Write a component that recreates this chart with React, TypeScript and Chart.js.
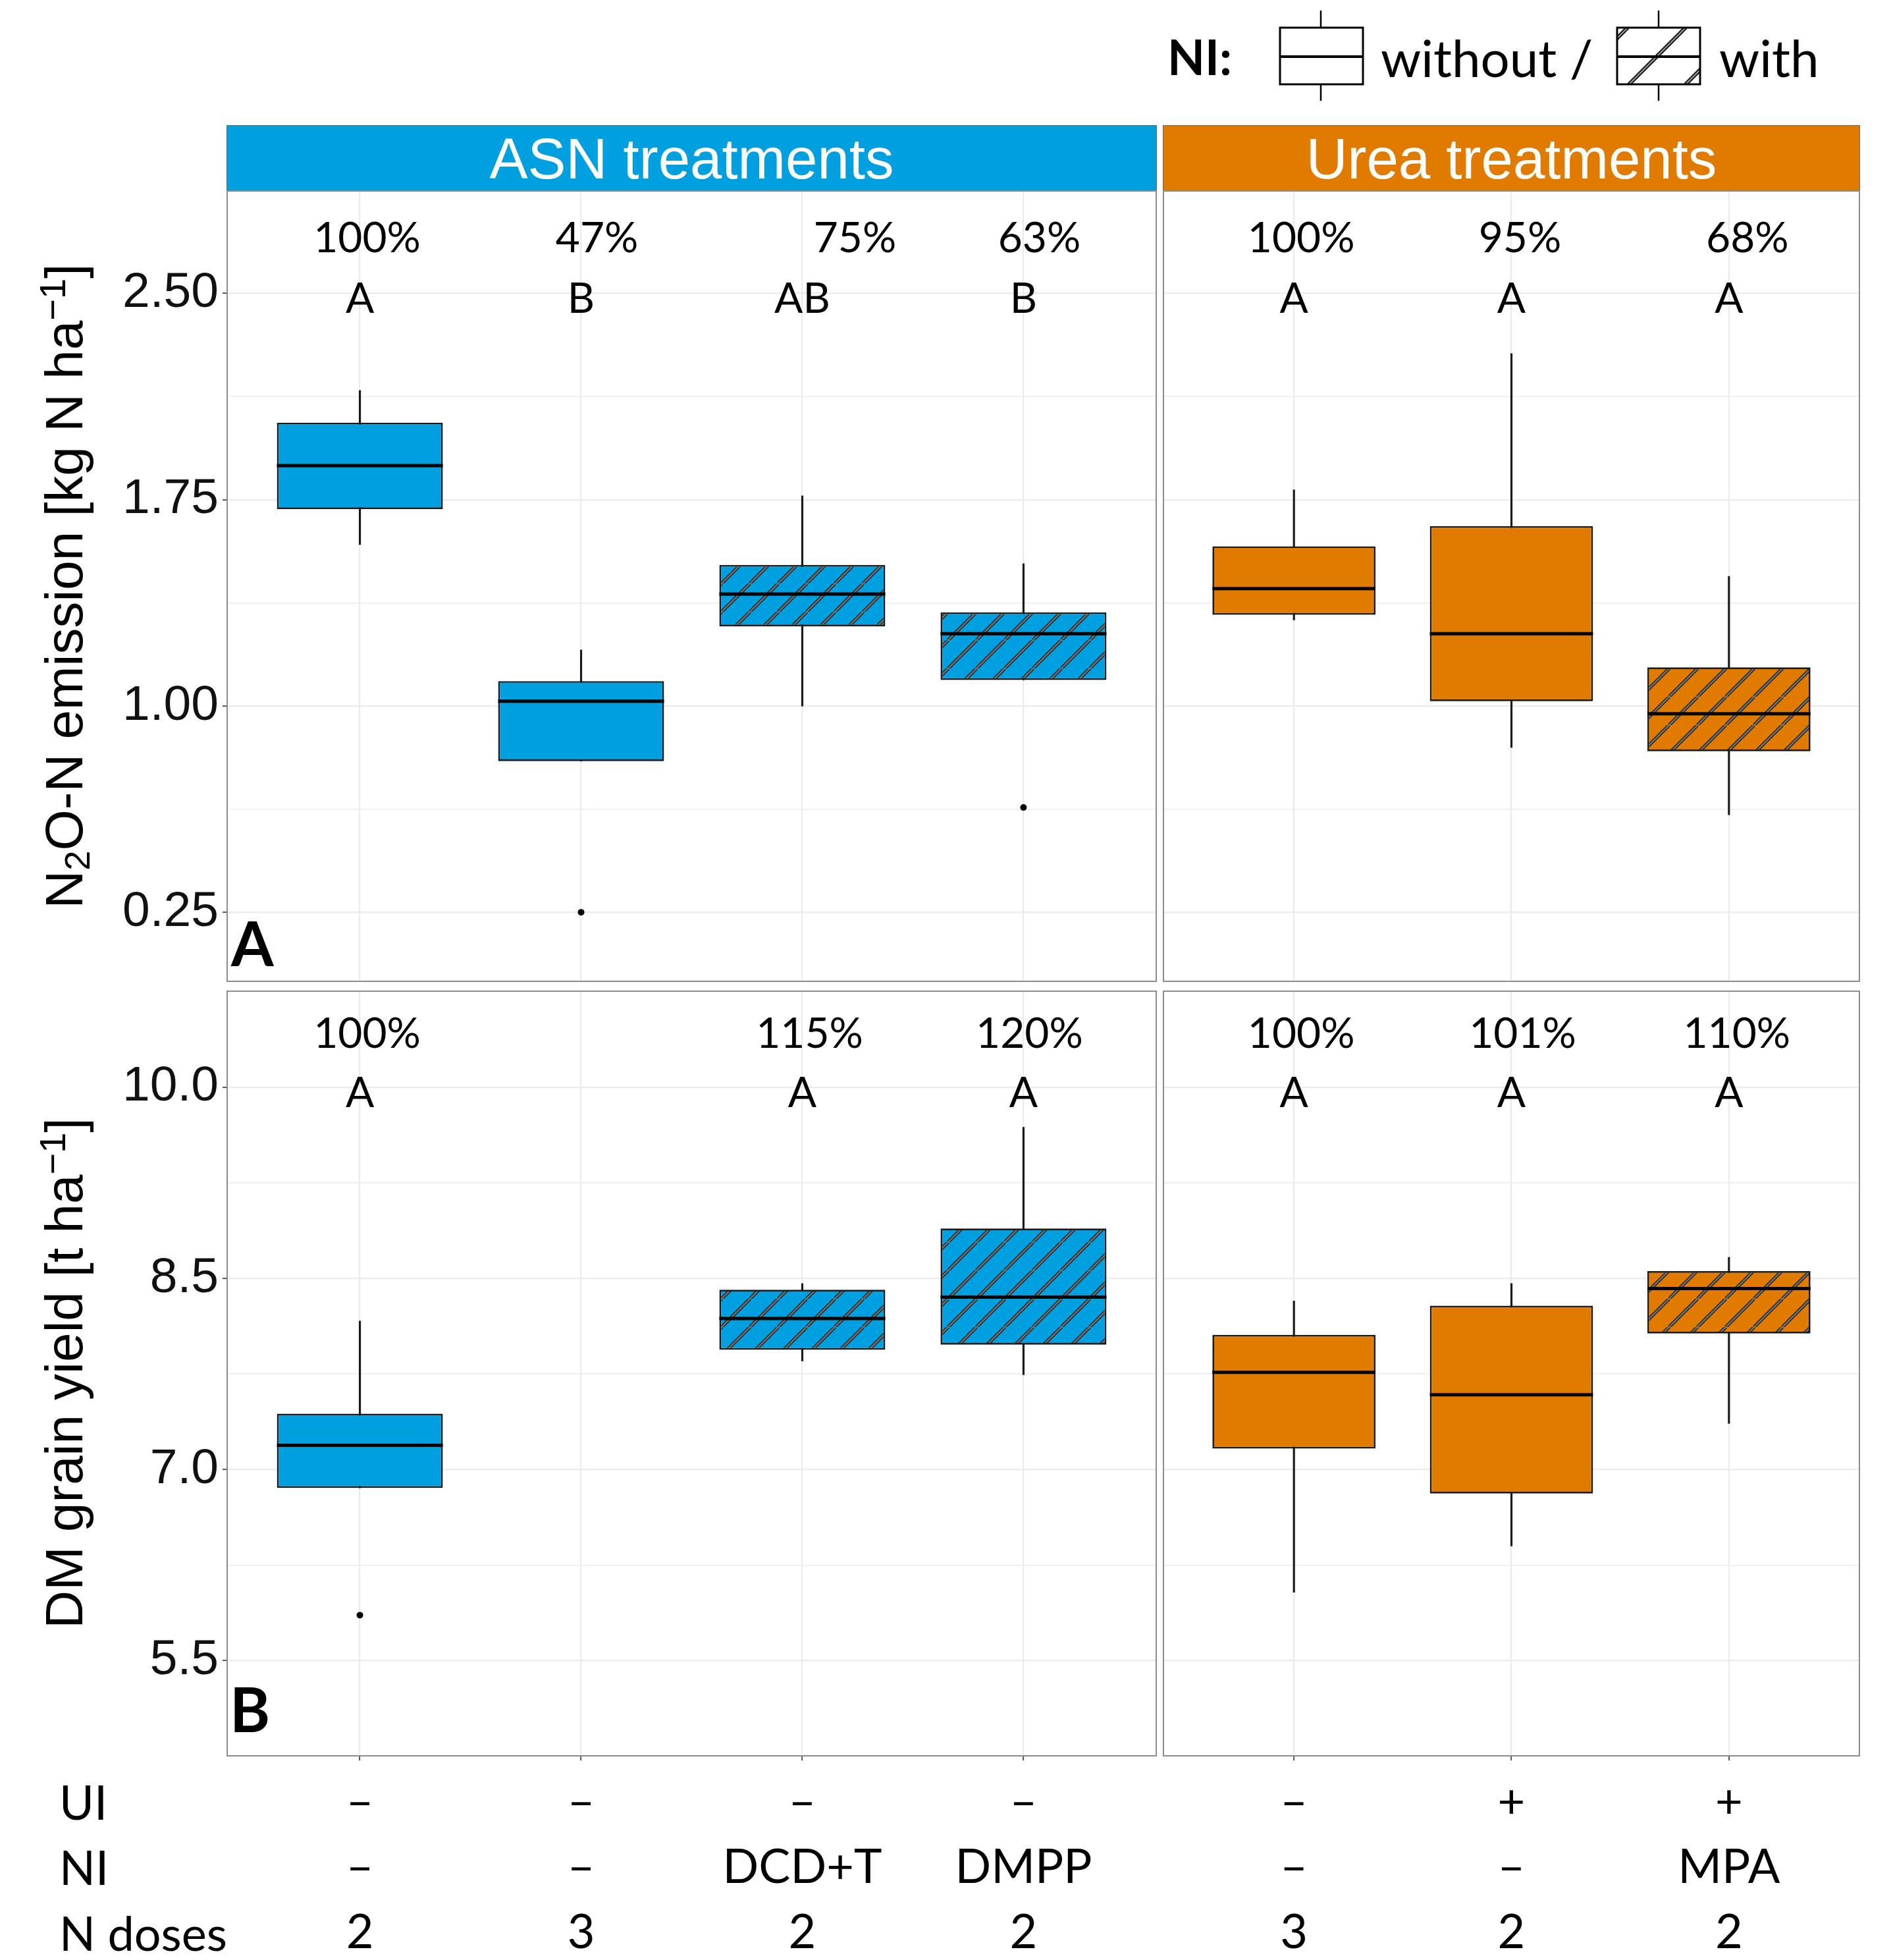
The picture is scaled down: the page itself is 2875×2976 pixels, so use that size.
import React, { useEffect, useRef } from 'react';
import { Chart, registerables } from 'chart.js';

Chart.register(...registerables);

// ---------------- data ----------------
const asnTreatments = ['ASN, 2 doses', 'ASN, 3 doses', 'ASN + DCD+T', 'ASN + DMPP'];
const ureaTreatments = ['Urea, 3 doses', 'Urea + UI', 'Urea + UI + MPA'];
const asnHasNI = [false, false, true, true];
const ureaHasNI = [false, false, true];

// N2O-N emission [kg N ha-1]: whisker low, Q1, median, Q3, whisker high
const asnN2oLow = [1.587, 0.8, 1.0, 1.095];
const asnN2oQ1 = [1.716, 0.8, 1.29, 1.095];
const asnN2oMedian = [1.874, 1.018, 1.407, 1.263];
const asnN2oQ3 = [2.03, 1.091, 1.513, 1.341];
const asnN2oHigh = [2.147, 1.204, 1.764, 1.518];
const asnN2oOutlierIdx = [1, 3];
const asnN2oOutlierVal = [0.251, 0.632];

const ureaN2oLow = [1.313, 0.85, 0.605];
const ureaN2oQ1 = [1.332, 1.018, 0.836];
const ureaN2oMedian = [1.427, 1.263, 0.972];
const ureaN2oQ3 = [1.581, 1.654, 1.141];
const ureaN2oHigh = [1.786, 2.281, 1.472];
const ureaN2oOutlierIdx: number[] = [];
const ureaN2oOutlierVal: number[] = [];

// DM grain yield [t ha-1] (no yield for the ASN 3-dose treatment)
const asnYieldLow = [6.855, null, 7.851, 7.743];
const asnYieldQ1 = [6.855, null, 7.939, 7.979];
const asnYieldMedian = [7.19, null, 8.184, 8.352];
const asnYieldQ3 = [7.438, null, 8.41, 8.891];
const asnYieldHigh = [8.165, null, 8.459, 9.686];
const asnYieldOutlierIdx = [0];
const asnYieldOutlierVal = [5.857];

const ureaYieldLow = [6.036, 6.399, 7.361];
const ureaYieldQ1 = [7.164, 6.811, 8.067];
const ureaYieldMedian = [7.762, 7.586, 8.42];
const ureaYieldQ3 = [8.057, 8.285, 8.557];
const ureaYieldHigh = [8.322, 8.459, 8.665];
const ureaYieldOutlierIdx: number[] = [];
const ureaYieldOutlierVal: number[] = [];

// relative values and significance letters
const asnN2oPercent = ['100%', '47%', '75%', '63%'];
const asnN2oLetters = ['A', 'B', 'AB', 'B'];
const ureaN2oPercent = ['100%', '95%', '68%'];
const ureaN2oLetters = ['A', 'A', 'A'];
const asnYieldPercent = ['100%', '', '115%', '120%'];
const asnYieldLetters = ['A', '', 'A', 'A'];
const ureaYieldPercent = ['100%', '101%', '110%'];
const ureaYieldLetters = ['A', 'A', 'A'];

// treatment table below the x axis
const uiRow = ['–', '–', '–', '–', '–', '+', '+'];
const niRow = ['–', '–', 'DCD+T', 'DMPP', '–', '–', 'MPA'];
const doseRow = ['2', '3', '2', '2', '3', '2', '2'];

// axis ticks (major + minor grid)
const n2oTicks = [0.25, 0.625, 1.0, 1.375, 1.75, 2.125, 2.5];
const n2oTickLabels = ['0.25', '', '1.00', '', '1.75', '', '2.50'];
const yieldTicks = [5.5, 6.25, 7.0, 7.75, 8.5, 9.25, 10.0];
const yieldTickLabels = ['5.5', '', '7.0', '', '8.5', '', '10.0'];

// ---------------- styles ----------------
const ASN_COLOR = '#009FDF';
const UREA_COLOR = '#E07B00';
const GRID = '#ebebeb';
const LATO_ASC = 0.887;

type Spec = {
  key: string;
  left: number; top: number; width: number; height: number;
  pad: { left: number; top: number; right: number; bottom: number };
  yAxisW: number; xAxisH: number;
  cats: string[];
  low: (number | null)[]; q1: (number | null)[]; med: (number | null)[];
  q3: (number | null)[]; high: (number | null)[];
  hatched: boolean[]; color: string;
  outIdx: number[]; outVal: number[];
  yMin: number; yMax: number; ticks: number[]; tickLabels: string[]; showY: boolean;
  pct: string[]; letters: string[]; pctY: number; letterY: number; pctShift: number[];
  xLabels: string[][] | null;
  tag: string; tagUp: number; tagDx: number;
};

function makeHatch(bg: string) {
  const s = 43;
  const c = document.createElement('canvas');
  c.width = s; c.height = s;
  const g = c.getContext('2d')!;
  g.fillStyle = bg;
  g.fillRect(0, 0, s, s);
  const draw = (w: number, col: string) => {
    g.strokeStyle = col;
    g.lineWidth = w;
    for (const o of [-s, 0, s]) {
      g.beginPath();
      g.moveTo(o, s);
      g.lineTo(o + s, 0);
      g.stroke();
    }
  };
  draw(5.2, '#2a2a2a');
  draw(2.0, '#777777');
  return g.createPattern(c, 'repeat')!;
}

function Panel({ s }: { s: Spec }) {
  const ref = useRef<HTMLCanvasElement>(null);
  useEffect(() => {
    const canvas = ref.current!;
    const hatch = makeHatch(s.color);
    const idx = s.cats.map((_, i) => i).filter((i) => s.q1[i] != null);
    const isMajor = (i: number) => i % 2 === 0;

    const extras = {
      id: 'extras_' + s.key,
      afterDatasetsDraw(chart: any) {
        const { ctx } = chart;
        const x = chart.scales.x;
        const y = chart.scales.y;
        const meta = chart.getDatasetMeta(1);
        const raw = chart.data.datasets[1].data as any[];
        ctx.save();
        ctx.strokeStyle = '#000';
        ctx.lineWidth = 5;
        meta.data.forEach((el: any, j: number) => {
          const py = y.getPixelForValue(raw[j].med);
          ctx.beginPath();
          ctx.moveTo(el.x - el.width / 2, py);
          ctx.lineTo(el.x + el.width / 2, py);
          ctx.stroke();
        });
        ctx.fillStyle = '#000';
        ctx.textAlign = 'center';
        ctx.textBaseline = 'middle';
        ctx.font = '64px Lato';
        s.cats.forEach((_, i) => {
          const px = x.getPixelForValue(i);
          if (s.pct[i]) ctx.fillText(s.pct[i], px + s.pctShift[i], y.getPixelForValue(s.pctY));
          if (s.letters[i]) ctx.fillText(s.letters[i], px, y.getPixelForValue(s.letterY));
        });
        ctx.restore();
      },
      afterDraw(chart: any) {
        const { ctx, chartArea: a } = chart;
        ctx.save();
        ctx.strokeStyle = '#8c8c8c';
        ctx.lineWidth = 2;
        ctx.strokeRect(a.left, a.top, a.right - a.left, a.bottom - a.top);
        if (s.tag) {
          ctx.font = 'bold 93px Lato';
          ctx.fillStyle = '#000';
          ctx.textAlign = 'left';
          ctx.textBaseline = 'alphabetic';
          ctx.fillText(s.tag, a.left + s.tagDx, a.bottom - s.tagUp);
        }
        ctx.restore();
      },
    };

    const zeroPad = (sc: any) => {
      sc.paddingTop = 0; sc.paddingBottom = 0; sc.paddingLeft = 0; sc.paddingRight = 0;
    };

    const chart = new Chart(canvas, {
      type: 'bar',
      data: {
        datasets: [
          {
            type: 'bar',
            label: 'whiskers',
            data: idx.map((i) => ({ x: i, y: [s.low[i], s.high[i]] })) as any,
            backgroundColor: '#1a1a1a',
            borderWidth: 0,
            barThickness: 2.5,
            grouped: false,
            order: 3,
          } as any,
          {
            type: 'bar',
            label: 'boxes',
            data: idx.map((i) => ({ x: i, y: [s.q1[i], s.q3[i]], med: s.med[i] })) as any,
            backgroundColor: idx.map((i) => (s.hatched[i] ? hatch : s.color)),
            borderColor: '#1a1a1a',
            borderWidth: 2.7,
            borderSkipped: false,
            categoryPercentage: 1,
            barPercentage: 0.75,
            grouped: false,
            order: 2,
          } as any,
          {
            type: 'scatter',
            label: 'outliers',
            data: s.outIdx.map((i, k) => ({ x: i, y: s.outVal[k] })),
            pointRadius: 5,
            pointBackgroundColor: '#000',
            pointBorderWidth: 0,
            order: 1,
          } as any,
        ],
      },
      options: {
        responsive: false,
        animation: false,
        devicePixelRatio: 1,
        layout: { padding: s.pad, autoPadding: false },
        plugins: { legend: { display: false }, tooltip: { enabled: false } },
        scales: {
          x: {
            type: 'linear',
            min: -0.6,
            max: s.cats.length - 1 + 0.6,
            offset: false,
            afterBuildTicks: (sc: any) => {
              sc.ticks = s.cats.map((_, i) => ({ value: i }));
            },
            afterFit: (sc: any) => {
              sc.height = s.xAxisH;
              zeroPad(sc);
            },
            grid: {
              offset: false,
              color: GRID,
              lineWidth: 2.2,
              drawTicks: !!s.xLabels,
              tickLength: 7,
              tickColor: '#555',
              tickWidth: 2,
            },
            border: { display: false },
            ticks: {
              display: !!s.xLabels,
              autoSkip: false,
              maxRotation: 0,
              minRotation: 0,
              padding: 14,
              color: '#000',
              font: { family: 'Lato', size: 72, lineHeight: 1.375 },
              callback: (_v: any, i: number) => (s.xLabels ? s.xLabels[i] : ''),
            },
          } as any,
          y: {
            type: 'linear',
            min: s.yMin,
            max: s.yMax,
            afterBuildTicks: (sc: any) => {
              sc.ticks = s.ticks.map((v) => ({ value: v }));
            },
            afterFit: (sc: any) => {
              sc.width = s.yAxisW;
              zeroPad(sc);
            },
            grid: {
              color: GRID,
              lineWidth: (c: any) => (isMajor(c.index) ? 2.2 : 1.6),
              drawTicks: s.showY,
              tickLength: 7,
              tickColor: (c: any) => (isMajor(c.index) ? '#555' : 'rgba(0,0,0,0)'),
              tickWidth: 2,
            },
            border: { display: false },
            ticks: {
              display: s.showY,
              autoSkip: false,
              padding: 6,
              color: '#111',
              font: { family: 'Liberation Sans', size: 75 },
              callback: (_v: any, i: number) => s.tickLabels[i],
            },
          } as any,
        },
      },
      plugins: [extras as any],
    });
    return () => chart.destroy();
  }, []);
  return (
    <canvas
      ref={ref}
      width={s.width}
      height={s.height}
      style={{ position: 'absolute', left: s.left, top: s.top, width: s.width, height: s.height }}
    />
  );
}

const asnXLabels = asnTreatments.map((_, i) => [uiRow[i], niRow[i], doseRow[i]]);
const ureaXLabels = ureaTreatments.map((_, i) => [uiRow[i + 4], niRow[i + 4], doseRow[i + 4]]);

const specs: Spec[] = [
  {
    key: 'asnN2o', left: 150, top: 284, width: 1612, height: 1212,
    pad: { left: 0, top: 6, right: 6, bottom: 6 }, yAxisW: 195, xAxisH: 0,
    cats: asnTreatments, low: asnN2oLow, q1: asnN2oQ1, med: asnN2oMedian, q3: asnN2oQ3, high: asnN2oHigh,
    hatched: asnHasNI, color: ASN_COLOR, outIdx: asnN2oOutlierIdx, outVal: asnN2oOutlierVal,
    yMin: 0, yMax: 2.872, ticks: n2oTicks, tickLabels: n2oTickLabels, showY: true,
    pct: asnN2oPercent, letters: asnN2oLetters, pctY: 2.7, letterY: 2.478, pctShift: [11, 24, 80, 24],
    xLabels: null, tag: 'A', tagUp: 23, tagDx: 6,
  },
  {
    key: 'ureaN2o', left: 1761, top: 284, width: 1069, height: 1212,
    pad: { left: 6, top: 6, right: 6, bottom: 6 }, yAxisW: 0, xAxisH: 0,
    cats: ureaTreatments, low: ureaN2oLow, q1: ureaN2oQ1, med: ureaN2oMedian, q3: ureaN2oQ3, high: ureaN2oHigh,
    hatched: ureaHasNI, color: UREA_COLOR, outIdx: ureaN2oOutlierIdx, outVal: ureaN2oOutlierVal,
    yMin: 0, yMax: 2.872, ticks: n2oTicks, tickLabels: n2oTickLabels, showY: false,
    pct: ureaN2oPercent, letters: ureaN2oLetters, pctY: 2.7, letterY: 2.478, pctShift: [11, 13, 28],
    xLabels: null, tag: '', tagUp: 0, tagDx: 0,
  },
  {
    key: 'asnYield', left: 150, top: 1499, width: 1612, height: 1467,
    pad: { left: 0, top: 6, right: 6, bottom: 0 }, yAxisW: 195, xAxisH: 300,
    cats: asnTreatments, low: asnYieldLow, q1: asnYieldQ1, med: asnYieldMedian, q3: asnYieldQ3, high: asnYieldHigh,
    hatched: asnHasNI, color: ASN_COLOR, outIdx: asnYieldOutlierIdx, outVal: asnYieldOutlierVal,
    yMin: 4.753, yMax: 10.753, ticks: yieldTicks, tickLabels: yieldTickLabels, showY: true,
    pct: asnYieldPercent, letters: asnYieldLetters, pctY: 10.417, letterY: 9.952, pctShift: [11, 0, 11, 9],
    xLabels: asnXLabels, tag: 'B', tagUp: 36, tagDx: 4,
  },
  {
    key: 'ureaYield', left: 1761, top: 1499, width: 1069, height: 1467,
    pad: { left: 6, top: 6, right: 6, bottom: 0 }, yAxisW: 0, xAxisH: 300,
    cats: ureaTreatments, low: ureaYieldLow, q1: ureaYieldQ1, med: ureaYieldMedian, q3: ureaYieldQ3, high: ureaYieldHigh,
    hatched: ureaHasNI, color: UREA_COLOR, outIdx: ureaYieldOutlierIdx, outVal: ureaYieldOutlierVal,
    yMin: 4.753, yMax: 10.753, ticks: yieldTicks, tickLabels: yieldTickLabels, showY: false,
    pct: ureaYieldPercent, letters: ureaYieldLetters, pctY: 10.417, letterY: 9.952, pctShift: [11, 17, 12],
    xLabels: ureaXLabels, tag: '', tagUp: 0, tagDx: 0,
  },
];

function Txt({ x, base, size, bold, children }: { x: number; base: number; size: number; bold?: boolean; children: React.ReactNode }) {
  return (
    <div
      style={{
        position: 'absolute', left: x, top: base - LATO_ASC * size,
        fontFamily: 'Lato', fontSize: size, fontWeight: bold ? 700 : 400,
        lineHeight: 1, whiteSpace: 'nowrap', color: '#000',
      }}
    >
      {children}
    </div>
  );
}

function Strip({ left, width, color, text }: { left: number; width: number; color: string; text: string }) {
  return (
    <div
      style={{
        position: 'absolute', left, top: 190, width, height: 100, boxSizing: 'border-box',
        background: color, border: '1.5px solid #666', display: 'flex',
        alignItems: 'center', justifyContent: 'center', color: '#fff',
        fontFamily: '"Liberation Sans", Arial, sans-serif', fontSize: 87, lineHeight: 1,
        whiteSpace: 'nowrap',
      }}
    >
      {text}
    </div>
  );
}

function YTitle({ cy, children }: { cy: number; children: React.ReactNode }) {
  return (
    <div
      style={{
        position: 'absolute', left: 98, top: cy, transform: 'translate(-50%, -50%) rotate(-90deg)',
        fontFamily: '"Liberation Sans", Arial, sans-serif', fontSize: 80, lineHeight: 1,
        whiteSpace: 'nowrap', color: '#000',
      }}
    >
      {children}
    </div>
  );
}

const subStyle: React.CSSProperties = { fontSize: '0.68em', position: 'relative', top: '0.21em' };
const supStyle: React.CSSProperties = { fontSize: '0.7em', position: 'relative', top: '-0.46em' };

function LegendIcons() {
  const L1 = 14, L2 = 526, T = 32, B = 118, M = 76, W = 126;
  const hatchTops = [16, 104, 190];
  return (
    <svg width={690} height={160} style={{ position: 'absolute', left: 1930, top: 10 }}>
      <defs>
        <clipPath id="hclip">
          <rect x={L2} y={T} width={W} height={B - T} />
        </clipPath>
      </defs>
      {/* without */}
      <line x1={L1 + 62} y1={6} x2={L1 + 62} y2={T} stroke="#000" strokeWidth={2.5} />
      <line x1={L1 + 62} y1={B} x2={L1 + 62} y2={143} stroke="#000" strokeWidth={2.5} />
      <rect x={L1} y={T} width={W} height={B - T} fill="#fff" stroke="#000" strokeWidth={3} />
      <line x1={L1} y1={M} x2={L1 + W} y2={M} stroke="#000" strokeWidth={4} />
      {/* with */}
      <line x1={L2 + 63} y1={6} x2={L2 + 63} y2={T} stroke="#000" strokeWidth={2.5} />
      <line x1={L2 + 63} y1={B} x2={L2 + 63} y2={143} stroke="#000" strokeWidth={2.5} />
      <rect x={L2} y={T} width={W} height={B - T} fill="#fff" />
      <g clipPath="url(#hclip)">
        {hatchTops.map((t, i) => (
          <g key={i}>
            <line x1={L2 + t} y1={T} x2={L2 + t - (B - T)} y2={B} stroke="#111" strokeWidth={6} />
            <line x1={L2 + t} y1={T} x2={L2 + t - (B - T)} y2={B} stroke="#999" strokeWidth={2.2} />
          </g>
        ))}
      </g>
      <rect x={L2} y={T} width={W} height={B - T} fill="none" stroke="#000" strokeWidth={3} />
      <line x1={L2} y1={M} x2={L2 + W} y2={M} stroke="#000" strokeWidth={4} />
    </svg>
  );
}

export default function App() {
  return (
    <div style={{ position: 'absolute', left: 0, top: 0, width: 2875, height: 2976, background: '#fff', overflow: 'hidden' }}>
      {/* legend */}
      <Txt x={1773} base={115} size={74} bold>NI:</Txt>
      <LegendIcons />
      <Txt x={2097} base={117} size={78}>without /</Txt>
      <Txt x={2611} base={117} size={78}>with</Txt>

      {/* facet strips */}
      <Strip left={344} width={1413} color={ASN_COLOR} text="ASN treatments" />
      <Strip left={1766} width={1059} color={UREA_COLOR} text="Urea treatments" />

      {specs.map((s) => (
        <Panel key={s.key} s={s} />
      ))}

      {/* axis titles */}
      <YTitle cy={890}>
        N<span style={subStyle}>2</span>O-N emission [kg N ha<span style={supStyle}>−1</span>]
      </YTitle>
      <YTitle cy={2085}>
        DM grain yield [t ha<span style={supStyle}>−1</span>]
      </YTitle>

      {/* treatment table row labels */}
      <Txt x={90} base={2763} size={72}>UI</Txt>
      <Txt x={90} base={2862} size={72}>NI</Txt>
      <Txt x={90} base={2962} size={72}>N doses</Txt>
    </div>
  );
}
